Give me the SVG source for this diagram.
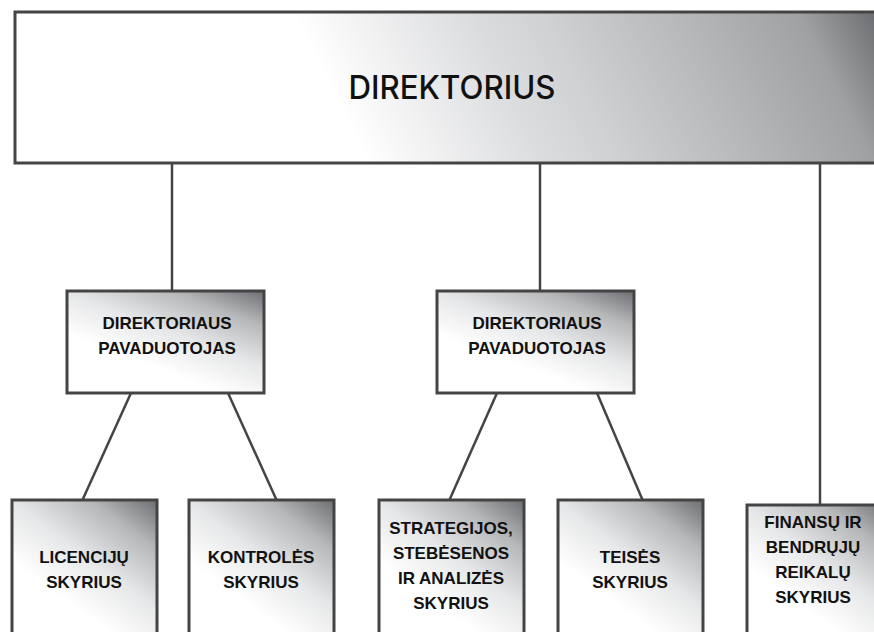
<svg xmlns="http://www.w3.org/2000/svg" width="874" height="632" viewBox="0 0 874 632">
<defs>
<linearGradient id="gTop" gradientUnits="userSpaceOnUse" x1="291" y1="12" x2="757" y2="-221">
<stop offset="0" stop-color="#ffffff"/>
<stop offset="0.3" stop-color="#dcdddf"/>
<stop offset="0.43" stop-color="#d0d1d3"/>
<stop offset="0.87" stop-color="#a0a1a3"/>
<stop offset="1" stop-color="#6e6f72"/>
</linearGradient>
<linearGradient id="gBox" x1="0.45" y1="0.75" x2="1" y2="0">
<stop offset="0" stop-color="#ffffff"/>
<stop offset="0.35" stop-color="#e6e7e8"/>
<stop offset="0.7" stop-color="#b6b7b9"/>
<stop offset="1" stop-color="#6d6e71"/>
</linearGradient>
</defs>
<style>
.box{fill:url(#gBox);stroke:#444;stroke-width:3}
.lbl{font-family:"Liberation Sans",Arial,sans-serif;font-weight:bold;font-size:17px;fill:#111;text-anchor:middle}
.conn line{stroke:#444;stroke-width:2.5}
</style>
<rect width="874" height="632" fill="#ffffff"/>
<g id="connectors" class="conn">
<line x1="172" y1="163" x2="172" y2="292"/>
<line x1="540" y1="163" x2="540" y2="292"/>
<line x1="820" y1="163" x2="820" y2="506"/>
<line x1="131" y1="393" x2="82" y2="501"/>
<line x1="228" y1="393" x2="277" y2="501"/>
<line x1="497" y1="393" x2="449" y2="501"/>
<line x1="597" y1="393" x2="643" y2="501"/>
</g>
<g id="direktorius">
<rect x="15" y="12" width="880" height="151" fill="url(#gTop)" stroke="#444" stroke-width="3"/>
<text x="452" y="99" font-family="Inter,'Liberation Sans',Arial,sans-serif" font-weight="500" font-size="32" fill="#111" text-anchor="middle" textLength="207" lengthAdjust="spacingAndGlyphs">DIREKTORIUS</text>
</g>
<g id="pavaduotojas1">
<rect class="box" x="67" y="291" width="197" height="102"/>
<text class="lbl" x="167" y="329">DIREKTORIAUS</text>
<text class="lbl" x="167" y="354">PAVADUOTOJAS</text>
</g>
<g id="pavaduotojas2">
<rect class="box" x="437" y="291" width="197" height="102"/>
<text class="lbl" x="537" y="329">DIREKTORIAUS</text>
<text class="lbl" x="537" y="354">PAVADUOTOJAS</text>
</g>
<g id="licenciju">
<rect class="box" x="12" y="500" width="145" height="145"/>
<text class="lbl" x="84" y="563">LICENCIJŲ</text>
<text class="lbl" x="84" y="588">SKYRIUS</text>
</g>
<g id="kontroles">
<rect class="box" x="189" y="500" width="145" height="145"/>
<text class="lbl" x="261" y="563">KONTROLĖS</text>
<text class="lbl" x="261" y="588">SKYRIUS</text>
</g>
<g id="strategijos">
<rect class="box" x="379" y="500" width="145" height="145"/>
<text class="lbl" x="451" y="534">STRATEGIJOS,</text>
<text class="lbl" x="451" y="559">STEBĖSENOS</text>
<text class="lbl" x="451" y="584">IR ANALIZĖS</text>
<text class="lbl" x="451" y="609">SKYRIUS</text>
</g>
<g id="teises">
<rect class="box" x="558" y="500" width="145" height="145"/>
<text class="lbl" x="630" y="563">TEISĖS</text>
<text class="lbl" x="630" y="588">SKYRIUS</text>
</g>
<g id="finansu">
<rect class="box" x="747" y="505" width="145" height="145"/>
<text class="lbl" x="813" y="528">FINANSŲ IR</text>
<text class="lbl" x="813" y="553">BENDRŲJŲ</text>
<text class="lbl" x="813" y="578">REIKALŲ</text>
<text class="lbl" x="813" y="603">SKYRIUS</text>
</g>
</svg>
